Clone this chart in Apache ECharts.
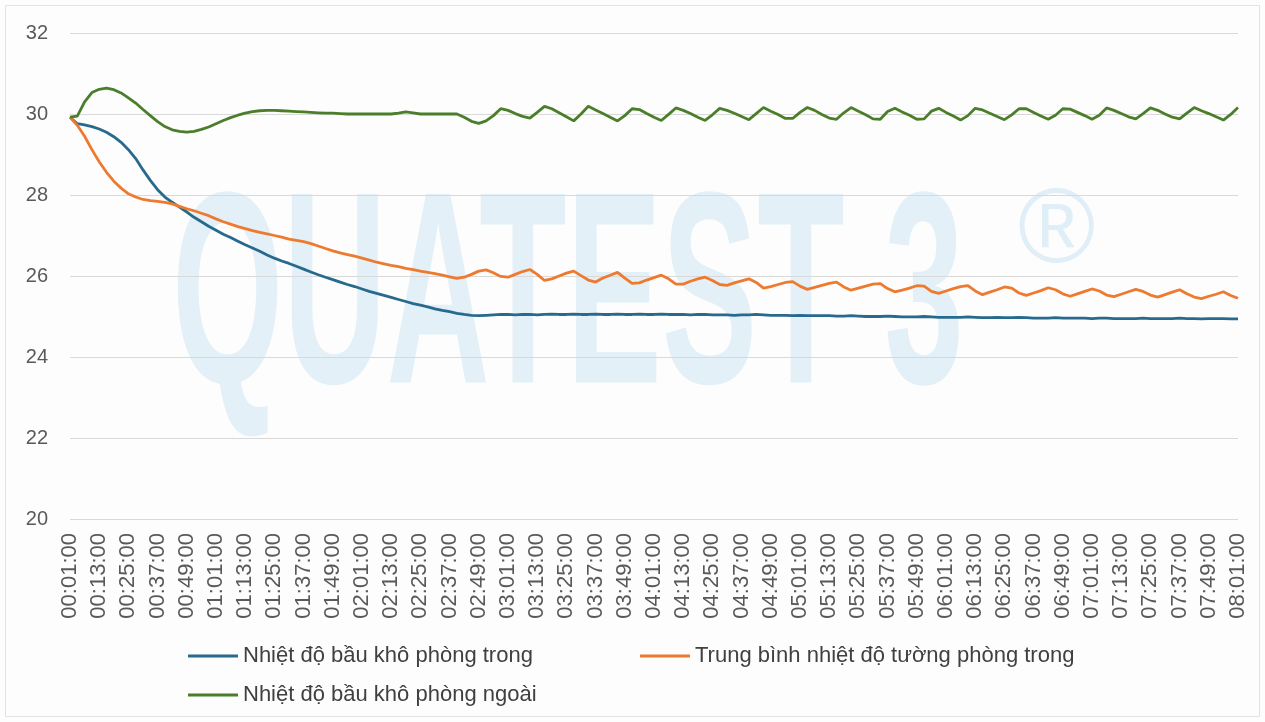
<!DOCTYPE html>
<html>
<head>
<meta charset="utf-8">
<script src="https://cdn.jsdelivr.net/npm/echarts@6/dist/echarts.min.js"></script>
<style>
html,body{margin:0;padding:0;background:#fdfdfd;}
#chart{width:1265px;height:722px;}
</style>
</head>
<body>
<div id="chart"></div>
<script>
// Sampling: every 3 minutes from 00:01:00 to 08:01:00 (161 points)
const stepMinutes = 3;
const categories = [];
for (let t = 0; t <= 480; t += stepMinutes) {
  const m = 1 + t;
  const hh = String(Math.floor(m / 60)).padStart(2, '0');
  const mm = String(m % 60).padStart(2, '0');
  categories.push(hh + ':' + mm + ':00');
}

const seriesNames = [
  'Nhiệt độ bầu khô phòng trong',
  'Trung bình nhiệt độ tường phòng trong',
  'Nhiệt độ bầu khô phòng ngoài'
];

const dryBulbIndoor = [
  29.92,29.76,29.73,29.69,29.63,29.55,29.44,29.30,29.12,28.90,
  28.62,28.36,28.13,27.95,27.82,27.70,27.58,27.45,27.34,27.23,
  27.13,27.03,26.95,26.86,26.77,26.69,26.61,26.52,26.44,26.37,
  26.31,26.24,26.17,26.10,26.03,25.97,25.91,25.85,25.79,25.74,
  25.68,25.62,25.57,25.52,25.47,25.42,25.37,25.32,25.28,25.24,
  25.19,25.15,25.12,25.08,25.05,25.03,25.02,25.03,25.04,25.05,
  25.05,25.04,25.05,25.05,25.04,25.05,25.06,25.05,25.05,25.06,
  25.05,25.05,25.06,25.05,25.05,25.06,25.05,25.05,25.06,25.05,
  25.05,25.06,25.05,25.05,25.05,25.04,25.05,25.05,25.04,25.04,
  25.04,25.03,25.04,25.04,25.05,25.04,25.03,25.03,25.03,25.02,
  25.03,25.02,25.02,25.02,25.02,25.01,25.01,25.02,25.01,25.00,
  25.00,25.00,25.01,25.00,24.99,24.99,24.99,25.00,24.99,24.98,
  24.98,24.98,24.98,24.99,24.98,24.97,24.97,24.98,24.97,24.97,
  24.98,24.97,24.96,24.96,24.96,24.97,24.96,24.96,24.96,24.96,
  24.95,24.96,24.96,24.95,24.95,24.95,24.95,24.96,24.95,24.95,
  24.95,24.95,24.96,24.95,24.95,24.94,24.95,24.95,24.95,24.94,
  24.94
];

const wallIndoorAvg = [
  29.92,29.72,29.45,29.12,28.82,28.56,28.34,28.17,28.03,27.95,
  27.89,27.86,27.84,27.82,27.78,27.72,27.66,27.61,27.55,27.49,
  27.41,27.34,27.28,27.22,27.17,27.12,27.08,27.04,27.00,26.96,
  26.91,26.88,26.85,26.80,26.74,26.68,26.62,26.57,26.53,26.49,
  26.44,26.39,26.34,26.30,26.26,26.23,26.19,26.16,26.12,26.09,
  26.06,26.02,25.98,25.94,25.97,26.04,26.12,26.15,26.08,25.99,
  25.97,26.04,26.11,26.16,26.04,25.89,25.93,26.00,26.07,26.12,
  26.01,25.90,25.85,25.95,26.02,26.09,25.95,25.82,25.83,25.90,
  25.96,26.02,25.93,25.80,25.80,25.87,25.93,25.97,25.89,25.79,
  25.77,25.83,25.88,25.93,25.84,25.70,25.74,25.79,25.84,25.86,
  25.75,25.67,25.72,25.77,25.82,25.85,25.73,25.65,25.70,25.75,
  25.80,25.81,25.69,25.61,25.65,25.70,25.76,25.75,25.62,25.57,
  25.63,25.69,25.74,25.76,25.63,25.54,25.60,25.66,25.73,25.70,
  25.58,25.52,25.58,25.64,25.71,25.66,25.56,25.50,25.56,25.62,
  25.68,25.63,25.53,25.49,25.55,25.61,25.67,25.62,25.53,25.48,
  25.54,25.60,25.66,25.56,25.48,25.44,25.50,25.55,25.61,25.52,
  25.45
];

const dryBulbOutdoor = [
  29.92,29.95,30.30,30.53,30.61,30.64,30.60,30.52,30.40,30.27,
  30.11,29.96,29.81,29.69,29.61,29.57,29.55,29.57,29.62,29.68,
  29.76,29.84,29.91,29.97,30.02,30.06,30.08,30.09,30.09,30.08,
  30.07,30.06,30.05,30.04,30.03,30.02,30.02,30.01,30.00,30.00,
  30.00,30.00,30.00,30.00,30.00,30.02,30.05,30.03,30.00,30.00,
  30.00,30.00,30.00,30.00,29.92,29.82,29.77,29.83,29.96,30.13,
  30.09,30.01,29.94,29.90,30.04,30.19,30.13,30.03,29.93,29.83,
  30.00,30.19,30.10,30.01,29.92,29.83,29.96,30.13,30.11,30.01,
  29.92,29.84,29.99,30.15,30.09,30.01,29.92,29.84,29.98,30.14,
  30.09,30.02,29.94,29.86,30.01,30.16,30.07,29.99,29.89,29.89,
  30.04,30.16,30.09,29.99,29.90,29.87,30.03,30.16,30.07,29.98,
  29.88,29.87,30.06,30.14,30.05,29.97,29.87,29.88,30.07,30.14,
  30.04,29.95,29.85,29.96,30.14,30.10,30.02,29.94,29.86,29.98,
  30.13,30.13,30.04,29.95,29.87,29.97,30.13,30.12,30.04,29.96,
  29.87,29.97,30.15,30.09,30.01,29.93,29.88,30.01,30.15,30.09,
  30.00,29.92,29.88,30.02,30.16,30.08,30.01,29.93,29.85,29.99,
  30.16
];

const yMin = 20, yMax = 32, yStep = 2;

const colors = ['#276a8e', '#ee7a30', '#4a7e2a'];
const labelFont = '"Liberation Sans", Arial, sans-serif';

const chart = echarts.init(document.getElementById('chart'));

const legendBase = {
  orient: 'horizontal',
  icon: 'rect',
  itemWidth: 50,
  itemHeight: 3,
  itemGap: 10,
  padding: 0,
  textStyle: { fontFamily: labelFont, fontSize: 22, color: '#404040' },
  selectedMode: false
};

chart.setOption({
  backgroundColor: '#fdfdfd',
  animation: false,
  color: colors,
  graphic: [
    {
      type: 'rect', z: -10, silent: true,
      shape: { x: 5.5, y: 5.5, width: 1254, height: 711 },
      style: { fill: 'none', stroke: '#e3e3e3', lineWidth: 1 }
    },
    {
      type: 'text', z: -5, silent: true,
      x: 172, y: 170, scaleX: 0.715, scaleY: 1.37,
      style: {
        text: 'QUATEST 3',
        font: 'bold 200px "Liberation Sans", Arial, sans-serif',
        fill: 'rgba(125,188,226,0.2)',
        textVerticalAlign: 'top'
      }
    },
    {
      type: 'text', z: -5, silent: true,
      x: 1018, y: 181,
      style: {
        text: '®',
        font: '105px "Liberation Sans", Arial, sans-serif',
        fill: 'rgba(125,188,226,0.22)',
        textVerticalAlign: 'top'
      }
    }
  ],
  grid: {
    left: 70, right: 27, top: 33, bottom: 203,
    containLabel: false,
    outerBoundsMode: 'none'
  },
  legend: [
    Object.assign({}, legendBase, { data: [seriesNames[0]], left: 188, top: 645 }),
    Object.assign({}, legendBase, { data: [seriesNames[1]], left: 640, top: 645 }),
    Object.assign({}, legendBase, { data: [seriesNames[2]], left: 188, top: 684 })
  ],
  xAxis: {
    type: 'category',
    data: categories,
    boundaryGap: false,
    axisLine: { show: false },
    axisTick: { show: false },
    axisLabel: {
      interval: 3,
      rotate: 90,
      margin: 14,
      fontFamily: labelFont,
      fontSize: 22,
      color: '#595959'
    },
    splitLine: { show: false }
  },
  yAxis: {
    type: 'value',
    min: yMin, max: yMax, interval: yStep,
    axisLine: { show: false },
    axisTick: { show: false },
    axisLabel: {
      margin: 22,
      fontFamily: labelFont,
      fontSize: 20,
      color: '#595959'
    },
    splitLine: { lineStyle: { color: '#d9d9d9', width: 1.2 } }
  },
  series: [
    { name: seriesNames[0], type: 'line', data: dryBulbIndoor, showSymbol: false, symbol: 'none',
      lineStyle: { width: 2.8, color: colors[0] }, itemStyle: { color: colors[0] } },
    { name: seriesNames[1], type: 'line', data: wallIndoorAvg, showSymbol: false, symbol: 'none',
      lineStyle: { width: 2.8, color: colors[1] }, itemStyle: { color: colors[1] } },
    { name: seriesNames[2], type: 'line', data: dryBulbOutdoor, showSymbol: false, symbol: 'none',
      lineStyle: { width: 2.8, color: colors[2] }, itemStyle: { color: colors[2] } }
  ]
});
</script>
</body>
</html>
